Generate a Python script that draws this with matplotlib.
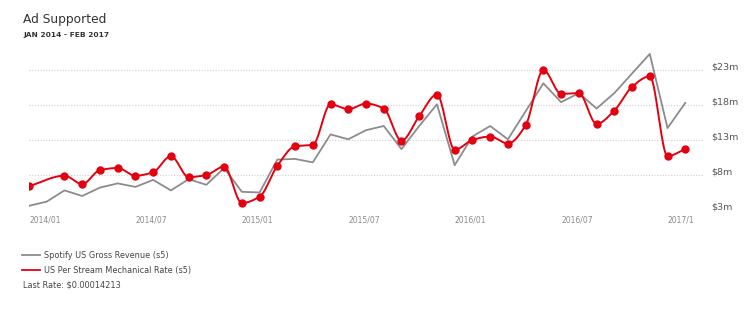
import numpy as np
import matplotlib
matplotlib.use('Agg')
import matplotlib.pyplot as plt
import matplotlib.transforms as mtrans

# data ($m)
months = ['2014/01', '2014/02', '2014/03', '2014/04', '2014/05', '2014/06', '2014/07', '2014/08',
          '2014/09', '2014/10', '2014/11', '2014/12', '2015/01', '2015/02', '2015/03', '2015/04',
          '2015/05', '2015/06', '2015/07', '2015/08', '2015/09', '2015/10', '2015/11', '2015/12',
          '2016/01', '2016/02', '2016/03', '2016/04', '2016/05', '2016/06', '2016/07', '2016/08',
          '2016/09', '2016/10', '2016/11', '2016/12', '2017/01', '2017/02']
revenue = [3.6, 4.2, 5.8, 5.0, 6.2, 6.8, 6.3, 7.3, 5.8, 7.4, 6.6, 9.0, 5.6, 5.5, 10.2, 10.3,
           9.8, 13.8, 13.1, 14.4, 15.0, 11.7, 15.0, 18.1, 9.4, 13.5, 15.0, 13.1, 17.1, 21.1,
           18.4, 19.7, 17.5, 19.7, 22.5, 25.3, 14.7, 18.3]
# Feb 2014 has no rate point in the chart
rate_months = [m for m in months if m != '2014/02']
rate = [6.4, 7.9, 6.7, 8.7, 9.0, 7.9, 8.4, 10.7, 7.7, 8.0, 9.2, 4.0, 4.9, 9.3, 12.1, 12.3,
        18.1, 17.4, 18.2, 17.5, 12.9, 16.4, 19.5, 11.6, 13.0, 13.5, 12.5, 15.1, 23.0, 19.6,
        19.7, 15.3, 17.2, 20.6, 22.1, 10.7, 11.7]
yticks = [3, 8, 13, 18, 23]
xtick_months = ['2014/01', '2014/07', '2015/01', '2015/07', '2016/01', '2016/07', '2017/01']
xtick_labels = ['2014/01', '2014/07', '2015/01', '2015/07', '2016/01', '2016/07', '2017/1']

grey = '#8c8c8c'
red = '#e3000f'
txt = '#444444'


def monotone(x, y, n=20):
    # monotone cubic (Fritsch-Carlson) for the smooth red line
    x = np.asarray(x, float)
    y = np.asarray(y, float)
    h = np.diff(x)
    d = np.diff(y) / h
    m = np.zeros_like(y)
    m[0], m[-1] = d[0], d[-1]
    for i in range(1, len(y) - 1):
        if d[i - 1] * d[i] <= 0:
            m[i] = 0
        else:
            w1 = 2 * h[i] + h[i - 1]
            w2 = h[i] + 2 * h[i - 1]
            m[i] = (w1 + w2) / (w1 / d[i - 1] + w2 / d[i])
    xs, ys = [], []
    for i in range(len(h)):
        t = np.linspace(0, 1, n, endpoint=False)
        h00 = 2 * t**3 - 3 * t**2 + 1
        h10 = t**3 - 2 * t**2 + t
        h01 = -2 * t**3 + 3 * t**2
        h11 = t**3 - t**2
        xs.append(x[i] + t * h[i])
        ys.append(h00 * y[i] + h10 * h[i] * m[i] + h01 * y[i + 1] + h11 * h[i] * m[i + 1])
    xs.append([x[-1]])
    ys.append([y[-1]])
    return np.concatenate(xs), np.concatenate(ys)


fig = plt.figure(figsize=(7.5, 3.15), dpi=100)
ax = fig.add_axes([29 / 750, 1 - 210 / 315, 674 / 750, 161 / 315])

xr = np.arange(len(months))
xrate = np.array([months.index(m) for m in rate_months])

ax.plot(xr, revenue, color=grey, lw=1.3, zorder=2)
sx, sy = monotone(xrate, rate)
ax.plot(sx, sy, color=red, lw=1.4, zorder=3)
ax.plot(xrate, rate, 'o', color=red, ms=5, zorder=4)

ax.set_xlim(0, 38)
ax.set_ylim(3, 26)
for s in ax.spines.values():
    s.set_visible(False)
ax.set_yticks(yticks)
ax.set_yticklabels(['$%dm' % v for v in yticks])
ax.yaxis.tick_right()
ax.tick_params(axis='y', length=0, pad=6, labelsize=6.8, labelcolor='#555555')
off = mtrans.ScaledTranslation(0, 3 / 72, fig.dpi_scale_trans)
for lab in ax.get_yticklabels():
    lab.set_transform(lab.get_transform() + off)
ax.grid(axis='y', color='#cfcfcf', ls=(0, (1, 1.5)), lw=0.8)
ax.set_axisbelow(True)

ax.set_xticks([months.index(m) for m in xtick_months])
ax.set_xticklabels(xtick_labels, ha='left')
ax.tick_params(axis='x', length=0, pad=4, labelsize=5.5, labelcolor='#8a8a8a')

fig.text(23 / 750, 1 - 19 / 315, 'Ad Supported', fontsize=8.8, color='#333333', va='center')
fig.text(23 / 750, 1 - 35 / 315, 'JAN 2014 - FEB 2017', fontsize=5.4, color='#333333',
         va='center', fontweight='bold')

# legend below the chart
fig.add_artist(plt.Line2D([22 / 750, 40 / 750], [1 - 255 / 315] * 2, color=grey, lw=1.3))
fig.add_artist(plt.Line2D([22 / 750, 40 / 750], [1 - 270 / 315] * 2, color=red, lw=1.3))
fig.text(44 / 750, 1 - 255 / 315, 'Spotify US Gross Revenue (s5)', fontsize=5.9, color=txt, va='center')
fig.text(44 / 750, 1 - 270 / 315, 'US Per Stream Mechanical Rate (s5)', fontsize=5.9, color=txt, va='center')
fig.text(23 / 750, 1 - 285 / 315, 'Last Rate: $0.00014213', fontsize=5.9, color=txt, va='center')

fig.savefig('out.png', dpi=100, facecolor='white')
